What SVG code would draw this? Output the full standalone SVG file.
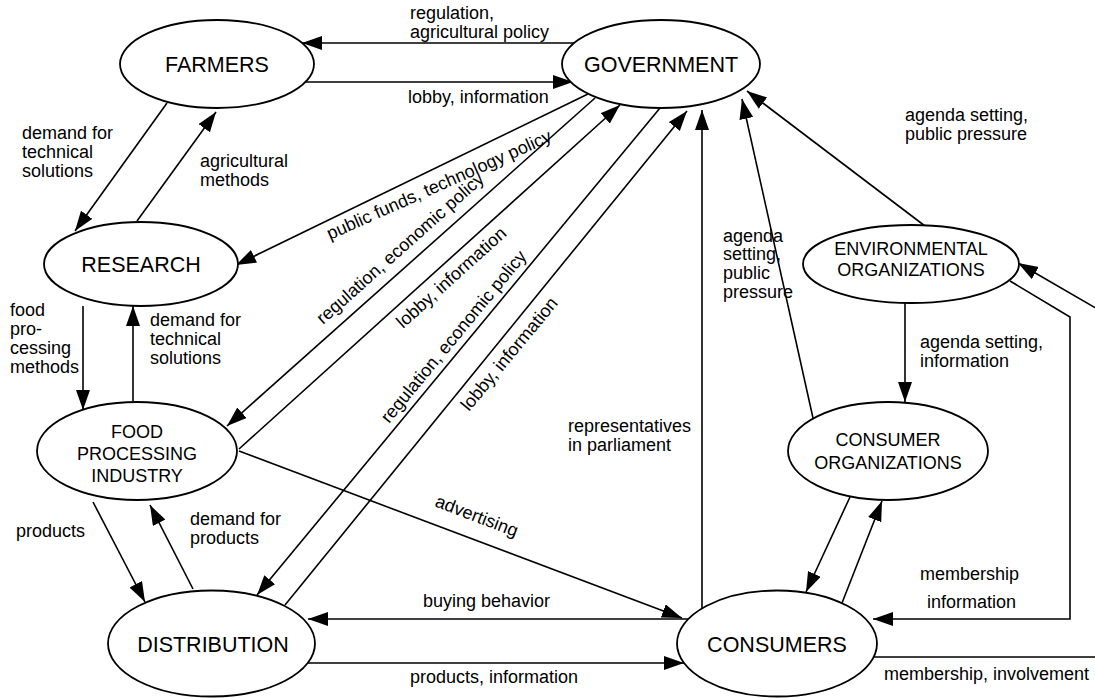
<svg xmlns="http://www.w3.org/2000/svg" width="1095" height="698" viewBox="0 0 1095 698">
  <style>
    .node { fill: #ffffff; stroke: #000000; stroke-width: 1.8; }
    .ntext { font-family: "Liberation Sans", Arial, sans-serif; font-size: 21.5px; fill: #000000; text-anchor: middle; }
    .ntext2 { font-family: "Liberation Sans", Arial, sans-serif; font-size: 18px; fill: #000000; text-anchor: middle; }
    .edge { fill: none; stroke: #000000; stroke-width: 1.6; marker-end: url(#arrow); }
    .label { font-family: "Liberation Sans", Arial, sans-serif; font-size: 18px; fill: #000000; }
  </style>
  <defs>
    <marker id="arrow" markerUnits="userSpaceOnUse" markerWidth="22" markerHeight="16" refX="20" refY="7" orient="auto">
      <path d="M0,0 L20,7 L0,14 Z" fill="#000000"/>
    </marker>
  </defs>
  <rect width="1095" height="698" fill="#ffffff"/>

  <g id="connectors">
    <!-- government <-> farmers -->
    <path class="edge" d="M574,43 L302,43"/>
    <path class="edge" d="M306,82 L573,82"/>
    <!-- farmers <-> research -->
    <path class="edge" d="M167,103 L75,231"/>
    <path class="edge" d="M137,221 L216,112"/>
    <!-- government -> research -->
    <path class="edge" d="M588,94 L236,265"/>
    <!-- government <-> food processing -->
    <path class="edge" d="M595,98 L227,426"/>
    <path class="edge" d="M239,449 L620,105"/>
    <!-- government <-> distribution -->
    <path class="edge" d="M660,108 L257,595"/>
    <path class="edge" d="M285,605 L687,111"/>
    <!-- consumers -> government -->
    <path class="edge" d="M702,608 L702,110"/>
    <!-- consumer organizations -> government -->
    <path class="edge" d="M813,418 L742,99"/>
    <!-- environmental organizations -> government -->
    <path class="edge" d="M925,226 L747,91"/>
    <!-- environmental -> consumer organizations -->
    <path class="edge" d="M905,303 L905,402"/>
    <!-- consumer organizations <-> consumers -->
    <path class="edge" d="M850,497 L806,592"/>
    <path class="edge" d="M842,603 L882,501"/>
    <!-- environmental -> consumers (information) -->
    <path class="edge" d="M1010,281 L1070,317 L1070,619 L873,619"/>
    <!-- consumers -> environmental (membership, involvement) -->
    <path class="edge" d="M872,657 L1130,657 L1130,328 L1018,263"/>
    <!-- research <-> food processing -->
    <path class="edge" d="M83,306 L83,410"/>
    <path class="edge" d="M133,401 L133,306"/>
    <!-- food processing <-> distribution -->
    <path class="edge" d="M93,502 L145,602"/>
    <path class="edge" d="M193,589 L150,505"/>
    <!-- food processing -> consumers -->
    <path class="edge" d="M239,451 L682,618"/>
    <!-- consumers <-> distribution -->
    <path class="edge" d="M688,619 L308,619"/>
    <path class="edge" d="M307,663 L684,663"/>

    <!-- edge labels -->
    <text class="label" x="410" y="19">regulation,</text>
    <text class="label" x="410" y="38">agricultural policy</text>
    <text class="label" x="408" y="103">lobby, information</text>
    <text class="label" x="22" y="139">demand for</text>
    <text class="label" x="22" y="158">technical</text>
    <text class="label" x="22" y="177">solutions</text>
    <text class="label" x="200" y="167">agricultural</text>
    <text class="label" x="200" y="186">methods</text>
    <text class="label" x="10" y="316">food</text>
    <text class="label" x="10" y="335">pro-</text>
    <text class="label" x="10" y="354">cessing</text>
    <text class="label" x="10" y="373">methods</text>
    <text class="label" x="150" y="326">demand for</text>
    <text class="label" x="150" y="345">technical</text>
    <text class="label" x="150" y="364">solutions</text>
    <text class="label" x="16" y="537">products</text>
    <text class="label" x="190" y="525">demand for</text>
    <text class="label" x="190" y="544">products</text>
    <text class="label" x="423" y="607">buying behavior</text>
    <text class="label" x="410" y="683">products, information</text>
    <text class="label" x="884" y="680">membership, involvement</text>
    <text class="label" x="927" y="608">information</text>
    <text class="label" x="920" y="580">membership</text>
    <text class="label" x="568" y="432">representatives</text>
    <text class="label" x="568" y="451">in parliament</text>
    <text class="label" x="723" y="242">agenda</text>
    <text class="label" x="723" y="260">setting,</text>
    <text class="label" x="723" y="279">public</text>
    <text class="label" x="723" y="298">pressure</text>
    <text class="label" x="905" y="121">agenda setting,</text>
    <text class="label" x="905" y="140">public pressure</text>
    <text class="label" x="920" y="348">agenda setting,</text>
    <text class="label" x="920" y="367">information</text>
    <text class="label" transform="translate(330,240) rotate(-24)">public funds, technology policy</text>
    <text class="label" transform="translate(323,325) rotate(-41.7)">regulation, economic policy</text>
    <text class="label" transform="translate(403,329) rotate(-42)">lobby, information</text>
    <text class="label" transform="translate(389,424) rotate(-50.4)">regulation, economic policy</text>
    <text class="label" transform="translate(469,412) rotate(-50.4)">lobby, information</text>
    <text class="label" transform="translate(434,506) rotate(21)">advertising</text>
  </g>

  <g id="farmers">
    <ellipse class="node" cx="217" cy="64" rx="97" ry="44"/>
    <text class="ntext" x="217" y="72">FARMERS</text>
  </g>
  <g id="government">
    <ellipse class="node" cx="661" cy="64" rx="99" ry="44"/>
    <text class="ntext" x="661" y="72">GOVERNMENT</text>
  </g>
  <g id="research">
    <ellipse class="node" cx="141" cy="264" rx="97" ry="42"/>
    <text class="ntext" x="141" y="272">RESEARCH</text>
  </g>
  <g id="food-processing">
    <ellipse class="node" cx="137" cy="451" rx="100" ry="49"/>
    <text class="ntext2" x="137" y="438">FOOD</text>
    <text class="ntext2" x="137" y="460">PROCESSING</text>
    <text class="ntext2" x="137" y="482">INDUSTRY</text>
  </g>
  <g id="distribution">
    <ellipse class="node" cx="211.5" cy="643.5" rx="103.5" ry="53"/>
    <text class="ntext" x="213" y="652">DISTRIBUTION</text>
  </g>
  <g id="consumers">
    <ellipse class="node" cx="777" cy="643.5" rx="100" ry="53"/>
    <text class="ntext" x="777" y="652">CONSUMERS</text>
  </g>
  <g id="environmental-organizations">
    <ellipse class="node" cx="911" cy="264" rx="108" ry="39"/>
    <text class="ntext2" x="911" y="255">ENVIRONMENTAL</text>
    <text class="ntext2" x="911" y="276">ORGANIZATIONS</text>
  </g>
  <g id="consumer-organizations">
    <ellipse class="node" cx="888" cy="451" rx="100" ry="49"/>
    <text class="ntext2" x="888" y="446">CONSUMER</text>
    <text class="ntext2" x="888" y="469">ORGANIZATIONS</text>
  </g>
</svg>
